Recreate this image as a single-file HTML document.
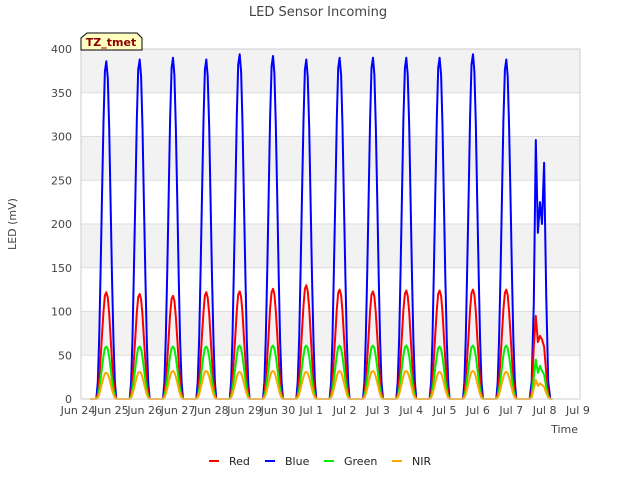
<!DOCTYPE html>
<html><head><meta charset="utf-8"><style>
body{margin:0;background:#fff;font-family:"Liberation Sans",sans-serif}
svg text{font-family:"DejaVu Sans","Liberation Sans",sans-serif}
</style></head><body>
<svg id="chart" width="640" height="480" viewBox="0 0 640 480">
<text x="318" y="16" text-anchor="middle" font-size="13" fill="#444">LED Sensor Incoming</text>
<g id="bands"></g>
<g id="grid"></g>
<g id="yticks" font-size="11" fill="#444"></g>
<g id="xticks" font-size="11" fill="#444"></g>
<g id="series"></g>
<rect x="81" y="49" width="499" height="350" fill="none" stroke="#ccc"/>
<text x="16" y="224" font-size="11" fill="#444" text-anchor="middle" transform="rotate(-90 16 224)">LED (mV)</text>
<text x="578" y="433" font-size="11" fill="#444" text-anchor="end">Time</text>
<g>
<path d="M81,50 L81,38 L87,33 L137,33 L142,38 L142,50 Z" fill="#ffffc0" stroke="#000"/>
<text x="111" y="46" text-anchor="middle" font-size="11" font-weight="bold" fill="#8b0000">TZ_tmet</text>
</g>
<g id="legend" font-size="11" fill="#222"></g>
</svg>
<script>
const days = ["Jun 24","Jun 25","Jun 26","Jun 27","Jun 28","Jun 29","Jun 30","Jul 1","Jul 2","Jul 3","Jul 4","Jul 5","Jul 6","Jul 7","Jul 8","Jul 9"];
const yTicks = [0,50,100,150,200,250,300,350,400];
const bluePeaks = [386,388,390,388,394,392,388,390,390,390,390,394,388];
const redPeaks = [122,120,118,122,123,126,130,125,123,124,124,125,125];
const greenPeaks = [60,60,60,60,61,61,61,61,61,61,60,61,61];
const nirPeaks = [30,31,32,32,31,32,31,32,32,32,31,32,31];
// normalized daily profile sampled across the daylight window
const profile = [0,0.05,0.18,0.38,0.6,0.82,0.97,1,0.95,0.8,0.58,0.36,0.17,0.05,0];
// last partial day (Jul 7/8) values
const lastBlue = [0,20,110,296,190,225,200,270,120,20,0];
const lastRed = [0,8,60,95,65,72,68,60,30,5,0];
const lastGreen = [0,4,25,45,30,38,32,28,14,3,0];
const lastNir = [0,2,12,22,15,18,16,14,7,2,0];

const NS="http://www.w3.org/2000/svg";
const X0=78, DX=33.33, Y0=399, YS=350/400;
const xs=d=>X0+d*DX, ys=v=>Y0-v*YS;
function mk(tag,attrs,parent){const e=document.createElementNS(NS,tag);for(const k in attrs)e.setAttribute(k,attrs[k]);parent.appendChild(e);return e;}
const bands=document.getElementById('bands'),grid=document.getElementById('grid');
for(let i=1;i<yTicks.length;i+=2){
 const r=mk('rect',{x:81,y:ys(yTicks[i+1]!==undefined?yTicks[i+1]:400),width:499,height:50*YS,fill:'#f2f2f2'},bands);
 
 
}
const yt=document.getElementById('yticks');
yTicks.forEach(v=>{
 const l=mk('line',{x1:81,x2:580,y1:ys(v),y2:ys(v),stroke:'#ddd'},grid);
 
 
 const t=mk('text',{x:72,y:ys(v)+4,'text-anchor':'end'},yt);t.textContent=v;
 
 
});
const xt=document.getElementById('xticks');
days.forEach((d,i)=>{
 const t=mk('text',{x:xs(i),y:414,'text-anchor':'middle'},xt);t.textContent=d;
 
 
});
const sg=document.getElementById('series');
function build(peaks,last){
 let pts=[[xs(0.36),0]];
 peaks.forEach((p,d)=>{
  profile.forEach((f,k)=>pts.push([xs(d+0.55+k*0.6/(profile.length-1)),p*f]));
 });
 last.forEach((v,k)=>pts.push([xs(13.55+k*0.62/(last.length-1)),v]));
 pts.push([xs(14.23),0]);
 return pts.map((p,i)=>(i?'L':'M')+p[0].toFixed(1)+','+ys(p[1]).toFixed(1)).join('');
}
[['blue',bluePeaks,lastBlue,'#0000ff'],['red',redPeaks,lastRed,'#ff0000'],['green',greenPeaks,lastGreen,'#00ee00'],['nir',nirPeaks,lastNir,'#ffa500']].forEach(s=>{
 const p=mk('path',{d:build(s[1],s[2]),fill:'none',stroke:s[3],'stroke-width':2,'stroke-linejoin':'round'},sg);
 
 
});
const lg=document.getElementById('legend');
[['Red','#ff0000',209],['Blue','#0000ff',265],['Green','#00ee00',324],['NIR','#ffa500',392]].forEach(e=>{
 const g=mk('g',{},lg);
 
 
 mk('line',{x1:e[2],x2:e[2]+10,y1:461,y2:461,stroke:e[1],'stroke-width':2},g);
 const t=mk('text',{x:e[2]+20,y:465},g);t.textContent=e[0];
});
</script>
</body></html>
